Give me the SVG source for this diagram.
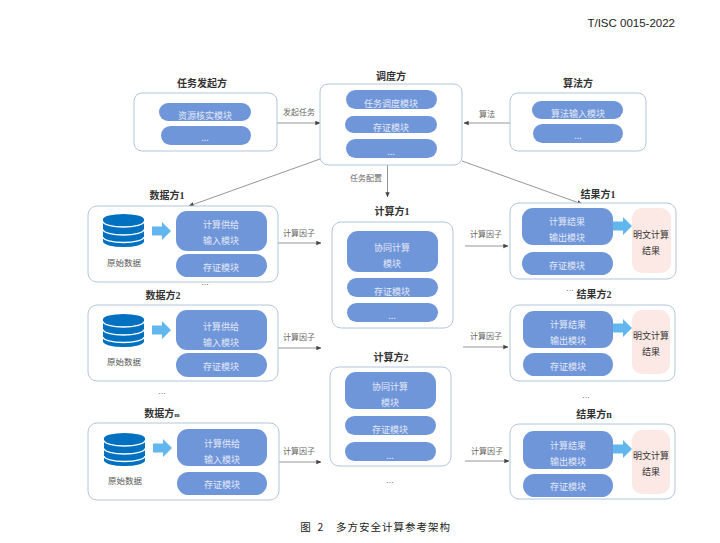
<svg xmlns="http://www.w3.org/2000/svg" width="720" height="543" viewBox="0 0 720 543">
<style>
text{font-family:"Liberation Sans","Noto Sans CJK SC",sans-serif;text-anchor:middle}
.box{fill:#fff;stroke:#b3c6da;stroke-width:1}
.pill{fill:#7096da}
.mod{font-size:9px;fill:#e3e9f7;font-family:"Noto Sans CJK SC",sans-serif}
.title{font-size:10px;font-weight:700;fill:#333;font-family:"Liberation Serif","Noto Sans CJK SC",sans-serif}
.lab{font-size:8px;fill:#666;font-family:"Liberation Serif","Noto Sans CJK SC",sans-serif}
.raw{font-size:8.5px;fill:#555;font-family:"Noto Sans CJK SC",sans-serif}
.dots{font-size:9px;fill:#777}
.pink{fill:#fce9e5}
.res{font-size:9px;fill:#333;font-family:"Noto Sans CJK SC",sans-serif}
.conn{fill:none;stroke:#8a8a8a;stroke-width:.9;marker-end:url(#tip)}
.cap{font-size:10.5px;fill:#222;font-family:"Noto Sans CJK SC",sans-serif}
</style>
<defs>
<marker id="tip" viewBox="0 0 8 8" refX="7.5" refY="4" markerWidth="5" markerHeight="5" markerUnits="userSpaceOnUse" orient="auto"><path d="M0,0.5L8,4L0,7.5z" fill="#444"/></marker>
<g id="db"><path d="M0,5.5A20.5,5.5 0 0 1 41,5.5V27.5A20.5,5.5 0 0 1 0,27.5z" fill="#0070c0"/><path d="M0,7.5A20.5,5.5 0 0 0 41,7.5M0,15.5A20.5,5.5 0 0 0 41,15.5M0,23A20.5,5.5 0 0 0 41,23" fill="none" stroke="#fff" stroke-width="1.4"/></g>
<path id="blk" d="M0,4.5H10V0L19,9L10,18V13.500H0z" fill="#62b6ee"/>
</defs>
<rect width="720" height="543" fill="#fff"/>
<text x="675" y="27" style="text-anchor:end;font-size:11.500px;fill:#222">T/ISC 0015-2022</text>

<g id="connectors">
<path class="conn" d="M277,123H320"/>
<path class="conn" d="M510,123H464"/>
<path class="conn" d="M387.500,165V197"/>
<path class="conn" d="M320,159L189,206"/>
<path class="conn" d="M462,161L582,204"/>
<path class="conn" d="M278,243H321"/>
<path class="conn" d="M278,348H321"/>
<path class="conn" d="M279,462H321"/>
<path class="conn" d="M465,246H508"/>
<path class="conn" d="M463,347H508"/>
<path class="conn" d="M465,461H509"/>
<text class="lab" x="299" y="115">发起任务</text>
<text class="lab" x="487" y="117">算法</text>
<text class="lab" x="366" y="181">任务配置</text>
<text class="lab" x="299" y="236">计算因子</text>
<text class="lab" x="299" y="340">计算因子</text>
<text class="lab" x="299" y="454">计算因子</text>
<text class="lab" x="486" y="237">计算因子</text>
<text class="lab" x="486" y="339">计算因子</text>
<text class="lab" x="487" y="454">计算因子</text>
</g>

<g id="initiator">
<text class="title" x="202" y="87">任务发起方</text>
<rect class="box" x="134" y="93" width="143" height="58" rx="8"/>
<rect class="pill" x="159" y="103" width="92" height="18" rx="9"/>
<rect class="pill" x="161" y="126" width="90" height="19" rx="9.500"/>
<text class="mod" x="205" y="119">资源核实模块</text>
<text class="mod" x="205" y="141">...</text>
</g>

<g id="scheduler">
<text class="title" x="391" y="80">调度方</text>
<rect class="box" x="320" y="84" width="142" height="81" rx="8"/>
<rect class="pill" x="346" y="90" width="91" height="19" rx="9.500"/>
<rect class="pill" x="345" y="116" width="92" height="17" rx="8.500"/>
<rect class="pill" x="346" y="139" width="91" height="19" rx="9.500"/>
<text class="mod" x="391" y="107">任务调度模块</text>
<text class="mod" x="391" y="131">存证模块</text>
<text class="mod" x="391" y="155">...</text>
</g>

<g id="algorithm">
<text class="title" x="578" y="87">算法方</text>
<rect class="box" x="510" y="93" width="136" height="58" rx="8"/>
<rect class="pill" x="532" y="101" width="91" height="18" rx="9"/>
<rect class="pill" x="533" y="124" width="90" height="19" rx="9.500"/>
<text class="mod" x="578" y="117">算法输入模块</text>
<text class="mod" x="578" y="139">...</text>
</g>

<g id="data1">
<text class="title" x="167" y="199">数据方1</text>
<rect class="box" x="88" y="206" width="190" height="76" rx="9"/>
<use href="#db" x="103" y="214"/>
<use href="#blk" x="152" y="222"/>
<text class="raw" x="124" y="266">原始数据</text>
<rect class="pill" x="176" y="211" width="91" height="40" rx="11"/>
<rect class="pill" x="176" y="254" width="91" height="23" rx="11.500"/>
<text class="mod" x="221" y="228">计算供给</text>
<text class="mod" x="221" y="244">输入模块</text>
<text class="mod" x="221" y="271">存证模块</text>
</g>
<text class="dots" x="205" y="285">...</text>

<g id="data2">
<text class="title" x="163" y="299">数据方2</text>
<rect class="box" x="88" y="305" width="190" height="76" rx="9"/>
<use href="#db" x="103" y="314"/>
<use href="#blk" x="152" y="321"/>
<text class="raw" x="124" y="365">原始数据</text>
<rect class="pill" x="176" y="310" width="91" height="40" rx="11"/>
<rect class="pill" x="176" y="353" width="91" height="24" rx="12"/>
<text class="mod" x="221" y="330">计算供给</text>
<text class="mod" x="221" y="346">输入模块</text>
<text class="mod" x="221" y="370">存证模块</text>
</g>
<text class="dots" x="162" y="394">...</text>

<g id="datam">
<text class="title" x="162" y="417">数据方<tspan style="font-size:6.500px">m</tspan></text>
<rect class="box" x="88" y="423" width="191" height="77" rx="9"/>
<use href="#db" x="104" y="433"/>
<use href="#blk" x="153" y="439"/>
<text class="raw" x="125" y="484">原始数据</text>
<rect class="pill" x="177" y="429" width="90" height="37" rx="11"/>
<rect class="pill" x="177" y="472" width="90" height="23" rx="11.500"/>
<text class="mod" x="222" y="447">计算供给</text>
<text class="mod" x="222" y="463">输入模块</text>
<text class="mod" x="222" y="488">存证模块</text>
</g>

<g id="compute1">
<text class="title" x="392" y="215">计算方1</text>
<rect class="box" x="332" y="222" width="121" height="106" rx="9"/>
<rect class="pill" x="347" y="231" width="91" height="41" rx="11"/>
<rect class="pill" x="347" y="278" width="91" height="19" rx="9.500"/>
<rect class="pill" x="347" y="303" width="91" height="19" rx="9.500"/>
<text class="mod" x="392" y="251">协同计算</text>
<text class="mod" x="392" y="267">模块</text>
<text class="mod" x="392" y="295">存证模块</text>
<text class="mod" x="392" y="319">...</text>
</g>

<g id="compute2">
<text class="title" x="391" y="361">计算方2</text>
<rect class="box" x="330" y="367" width="121" height="99" rx="9"/>
<rect class="pill" x="345" y="372" width="91" height="37" rx="11"/>
<rect class="pill" x="345" y="416" width="91" height="19" rx="9.500"/>
<rect class="pill" x="345" y="442" width="91" height="19" rx="9.500"/>
<text class="mod" x="390" y="390">协同计算</text>
<text class="mod" x="390" y="406">模块</text>
<text class="mod" x="390" y="433">存证模块</text>
<text class="mod" x="390" y="459">...</text>
</g>
<text class="dots" x="390" y="483">...</text>

<g id="result1">
<text class="title" x="598" y="198">结果方1</text>
<rect class="box" x="510" y="203" width="166" height="76" rx="9"/>
<rect class="pill" x="522" y="208" width="91" height="37" rx="11"/>
<rect class="pill" x="522" y="252" width="91" height="23" rx="11.500"/>
<use href="#blk" x="613" y="217"/>
<rect class="pink" x="632" y="208" width="39" height="65" rx="10"/>
<text class="mod" x="567" y="225">计算结果</text>
<text class="mod" x="567" y="241">输出模块</text>
<text class="mod" x="567" y="269">存证模块</text>
<text class="res" x="651" y="238">明文计算</text>
<text class="res" x="651" y="254">结果</text>
</g>
<text class="dots" x="570" y="291">...</text>

<g id="result2">
<text class="title" x="594" y="298">结果方2</text>
<rect class="box" x="510" y="305" width="165" height="76" rx="9"/>
<rect class="pill" x="523" y="311" width="90" height="37" rx="11"/>
<rect class="pill" x="523" y="353" width="90" height="23" rx="11.500"/>
<use href="#blk" x="613" y="319"/>
<rect class="pink" x="632" y="310" width="38" height="64" rx="10"/>
<text class="mod" x="568" y="328">计算结果</text>
<text class="mod" x="568" y="344">输出模块</text>
<text class="mod" x="568" y="370">存证模块</text>
<text class="res" x="651" y="339">明文计算</text>
<text class="res" x="651" y="355">结果</text>
</g>
<text class="dots" x="586" y="398">...</text>

<g id="resultn">
<text class="title" x="594" y="418">结果方n</text>
<rect class="box" x="510" y="424" width="165" height="75" rx="9"/>
<rect class="pill" x="523" y="431" width="90" height="38" rx="11"/>
<rect class="pill" x="523" y="474" width="90" height="23" rx="11.500"/>
<use href="#blk" x="613" y="440"/>
<rect class="pink" x="632" y="430" width="38" height="64" rx="10"/>
<text class="mod" x="568" y="449">计算结果</text>
<text class="mod" x="568" y="465">输出模块</text>
<text class="mod" x="568" y="490">存证模块</text>
<text class="res" x="651" y="459">明文计算</text>
<text class="res" x="651" y="475">结果</text>
</g>

<text class="cap" x="305.500" y="531">图</text>
<text class="cap" x="320.500" y="531">2</text>
<text class="cap" x="393.500" y="531" style="letter-spacing:1px">多方安全计算参考架构</text>
</svg>
